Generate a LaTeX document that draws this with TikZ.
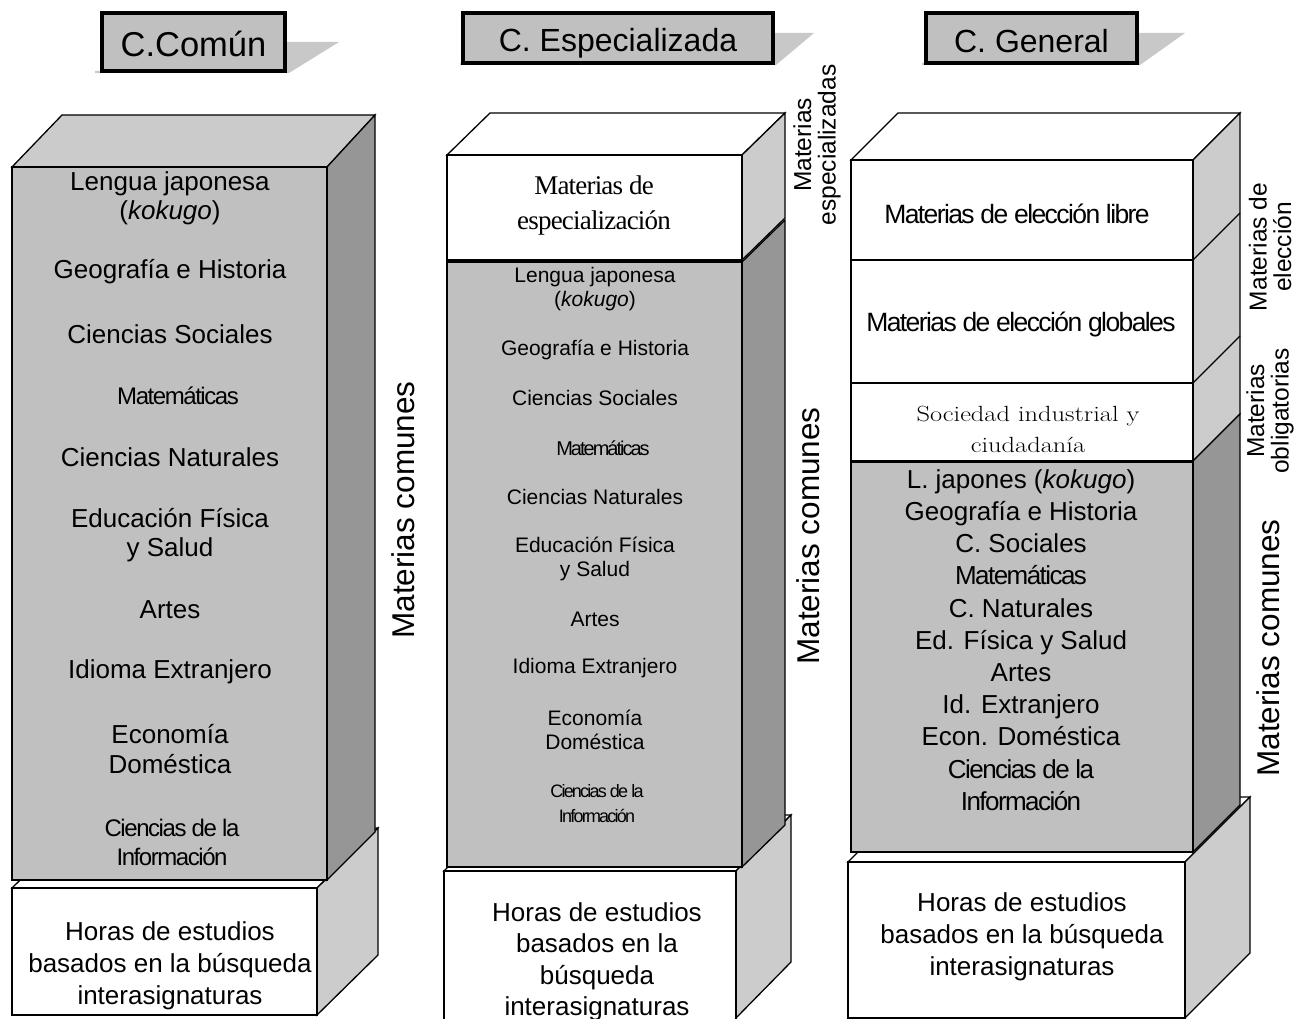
\documentclass[tikz,border=0pt]{standalone}
\usepackage{graphicx}
\usepackage{fontspec}
\newfontfamily\arial{Liberation Sans}
\newfontfamily\arialc[LetterSpace=-6]{Liberation Sans}
\newfontfamily\arialcc[LetterSpace=-10]{Liberation Sans}
\newfontfamily\timesc[LetterSpace=-3]{Liberation Serif}
\newcommand\fsz[2]{\fontsize{#1}{#2}\selectfont}
\definecolor{midgray}{HTML}{C0C0C0}
\definecolor{topgray}{HTML}{CBCBCB}
\definecolor{sidedark}{HTML}{969696}
\definecolor{sidelight}{HTML}{CCCCCC}
\definecolor{shadowgray}{HTML}{C8C8C8}
\begin{document}
\begin{tikzpicture}[x=1pt,y=-1pt,
  edge/.style={draw=black,line width=1.3pt,line join=miter},
  frontface/.style={draw=black,line width=2pt},
  lbl/.style={font=\arial\fsz{26}{29}, align=center, inner sep=0pt, text=black},
  lblB/.style={font=\arial\fsz{21}{24.5}, align=center, inner sep=0pt, text=black},
  side/.style={font=\arial\fsz{31.5}{31}, rotate=90, inner sep=0pt},
  sidesmall/.style={font=\arial\fsz{24.5}{24.5}, rotate=90, align=center, inner sep=0pt},
  titlebox/.style={draw=black, line width=3.5pt, fill=midgray, inner sep=0pt},
  titletext/.style={font=\arial\fsz{32}{32}, inner sep=0pt},
  flap/.style={fill=shadowgray, draw=none}]
\useasboundingbox (0,0) rectangle (1298,1019);

% ---------- titles ----------
\fill[flap] (285,42) -- (339,42) -- (289,73) -- (95,73) -- (95,71) -- (285,71) -- cycle;
\node[titlebox, minimum width=183, minimum height=58] (t1) at (193.5,42) {};
\node[titletext, font=\arial\fsz{34.5}{34}] (t1t) at (193.5,44) {C.Común};
\fill[flap] (773,33) -- (814,33) -- (776,65) -- (460,65) -- (460,63) -- (773,63) -- cycle;
\node[titlebox, minimum width=310, minimum height=50] (t2) at (618,38) {};
\node[titletext] (t2t) at (618,43) {C. Especializada};
\fill[flap] (1137,33) -- (1185,33) -- (1140,65) -- (922,65) -- (922,63) -- (1137,63) -- cycle;
\node[titlebox, minimum width=211, minimum height=50] (t3) at (1031.5,38) {};
\node[titletext] (t3t) at (1031.5,41) {C. General};

% ---------- prism 1 ----------
\filldraw[edge, fill=white] (12,888) -- (73,828) -- (378,828) -- (317,888) -- cycle;
\filldraw[edge, fill=sidelight] (317,888) -- (378,828) -- (378,955) -- (317,1015) -- cycle;
\filldraw[frontface, fill=white] (12,888) rectangle (317,1015);
\filldraw[edge, fill=topgray] (12,167) -- (62,115) -- (375,115) -- (327,167) -- cycle;
\filldraw[edge, fill=sidedark] (327,167) -- (375,115) -- (375,832) -- (327,880) -- cycle;
\filldraw[frontface, fill=midgray] (12,167) rectangle (327,880);

\node[lbl] (p1a) at (170,198) {Lengua japonesa\\(\textit{kokugo})};
\node[lbl] (p1b) at (170,272) {Geografía e Historia};
\node[lbl] (p1c) at (170,334) {Ciencias Sociales};
\node[lbl, font=\arialc\fsz{24}{29}] (p1d) at (178,396) {Matemáticas};
\node[lbl] (p1e) at (170,457) {Ciencias Naturales};
\node[lbl] (p1f) at (170,535) {Educación Física\\y Salud};
\node[lbl] (p1g) at (170,610) {Artes};
\node[lbl] (p1h) at (170,672) {Idioma Extranjero};
\node[lbl, font=\arial\fsz{26}{30}] (p1i) at (170,749) {Economía\\Doméstica};
\node[lbl, font=\arialc\fsz{24}{29}] (p1j) at (172,842) {Ciencias de la\\Información};
\node[lbl, font=\arial\fsz{26}{32}] (p1k) at (170,966) {Horas de estudios\\basados en la búsqueda\\interasignaturas};
\node[side] (s1) at (403,510) {Materias comunes};

% ---------- prism 2 ----------
\filldraw[edge, fill=white] (444,871) -- (499,815) -- (791,815) -- (736,871) -- cycle;
\filldraw[edge, fill=sidelight] (736,871) -- (791,815) -- (791,962) -- (736,1018) -- cycle;
\filldraw[frontface, fill=white] (444,871) rectangle (736,1030);
\filldraw[edge, fill=sidedark] (742,262) -- (785,220) -- (785,825) -- (742,867) -- cycle;
\filldraw[frontface, fill=midgray] (447,262) rectangle (742,867);
\filldraw[edge, fill=white] (447,155) -- (490,113) -- (785,113) -- (742,155) -- cycle;
\filldraw[edge, fill=sidelight] (742,155) -- (785,113) -- (785,218) -- (742,260) -- cycle;
\filldraw[frontface, fill=white] (447,155) rectangle (742,260);

\node[lbl, font=\timesc\fsz{27}{35}] (p2s) at (594,206) {Materias de\\especialización};
\node[lblB] (p2a) at (595,289) {Lengua japonesa\\(\textit{kokugo})};
\node[lblB] (p2b) at (595,350) {Geografía e Historia};
\node[lblB] (p2c) at (595,398) {Ciencias Sociales};
\node[lblB, font=\arialcc\fsz{20}{24}] (p2d) at (603,448) {Matemáticas};
\node[lblB] (p2e) at (595,497) {Ciencias Naturales};
\node[lblB] (p2f) at (595,559) {Educación Física\\y Salud};
\node[lblB] (p2g) at (595,619) {Artes};
\node[lblB] (p2h) at (595,668) {Idioma Extranjero};
\node[lblB] (p2i) at (595,730) {Economía\\Doméstica};
\node[lblB, font=\arialcc\fsz{18}{25}] (p2j) at (597,804) {Ciencias de la\\Información};
\node[lbl, font=\arial\fsz{26}{31.5}] (p2k) at (597,962) {Horas de estudios\\basados en la\\búsqueda\\interasignaturas};
\node[side] (s2) at (808,536) {Materias comunes};
\node[sidesmall] (s2b) at (817,145) {Materias\\especializadas};

% ---------- prism 3 ----------
\filldraw[edge, fill=white] (848,862) -- (913,797) -- (1250,797) -- (1185,862) -- cycle;
\filldraw[edge, fill=sidelight] (1185,862) -- (1250,797) -- (1250,953) -- (1185,1018) -- cycle;
\filldraw[frontface, fill=white] (848,862) rectangle (1185,1018);
\filldraw[edge, fill=white] (851,160) -- (898,113) -- (1240,113) -- (1193,160) -- cycle;
\filldraw[edge, fill=sidelight] (1193,160) -- (1240,113) -- (1240,414) -- (1193,461) -- cycle;
\filldraw[edge, fill=sidedark] (1193,461) -- (1240,414) -- (1240,805) -- (1193,852) -- cycle;
\filldraw[frontface, fill=white] (851,160) rectangle (1193,461);
\filldraw[frontface, fill=midgray] (851,461) rectangle (1193,852);
\draw[frontface] (851,260) -- (1193,260);
\draw[edge] (1193,260) -- (1240,213);
\draw[frontface] (851,383) -- (1193,383);
\draw[edge] (1193,383) -- (1240,336);
\draw[draw=black, line width=3pt] (851,461) -- (1193,461);

\node[lbl, font=\arialc\fsz{26.5}{29}] (p3a) at (1017,214) {Materias de elección libre};
\node[lbl, font=\arialc\fsz{26.5}{29}] (p3b) at (1021,324) {Materias de elección globales};
\node[lbl, font=\rmfamily\fsz{22}{31}] (p3c) at (1028,431) {\scalebox{1.2}[1]{\begin{tabular}{@{}c@{}}Sociedad industrial y\\ciudadanía\end{tabular}}};
\node[lbl, font=\arial\fsz{26}{32.2}] (p3d) at (1021,640) {L. japones (\textit{kokugo})\\Geografía e Historia\\C. Sociales\\{\arialc Matemáticas}\\C. Naturales\\Ed. Física y Salud\\Artes\\Id. Extranjero\\Econ. Doméstica\\{\arialc Ciencias de la}\\{\arialc Información}};
\node[lbl, font=\arial\fsz{26}{32}] (p3e) at (1022,937) {Horas de estudios\\basados en la búsqueda\\interasignaturas};
\node[side] (s3) at (1268,648) {Materias comunes};
\node[sidesmall] (s3b) at (1270,247) {Materias de\\elección};
\node[sidesmall] (s3c) at (1270,411) {Materias\\obligatorias};
\end{tikzpicture}
\end{document}
